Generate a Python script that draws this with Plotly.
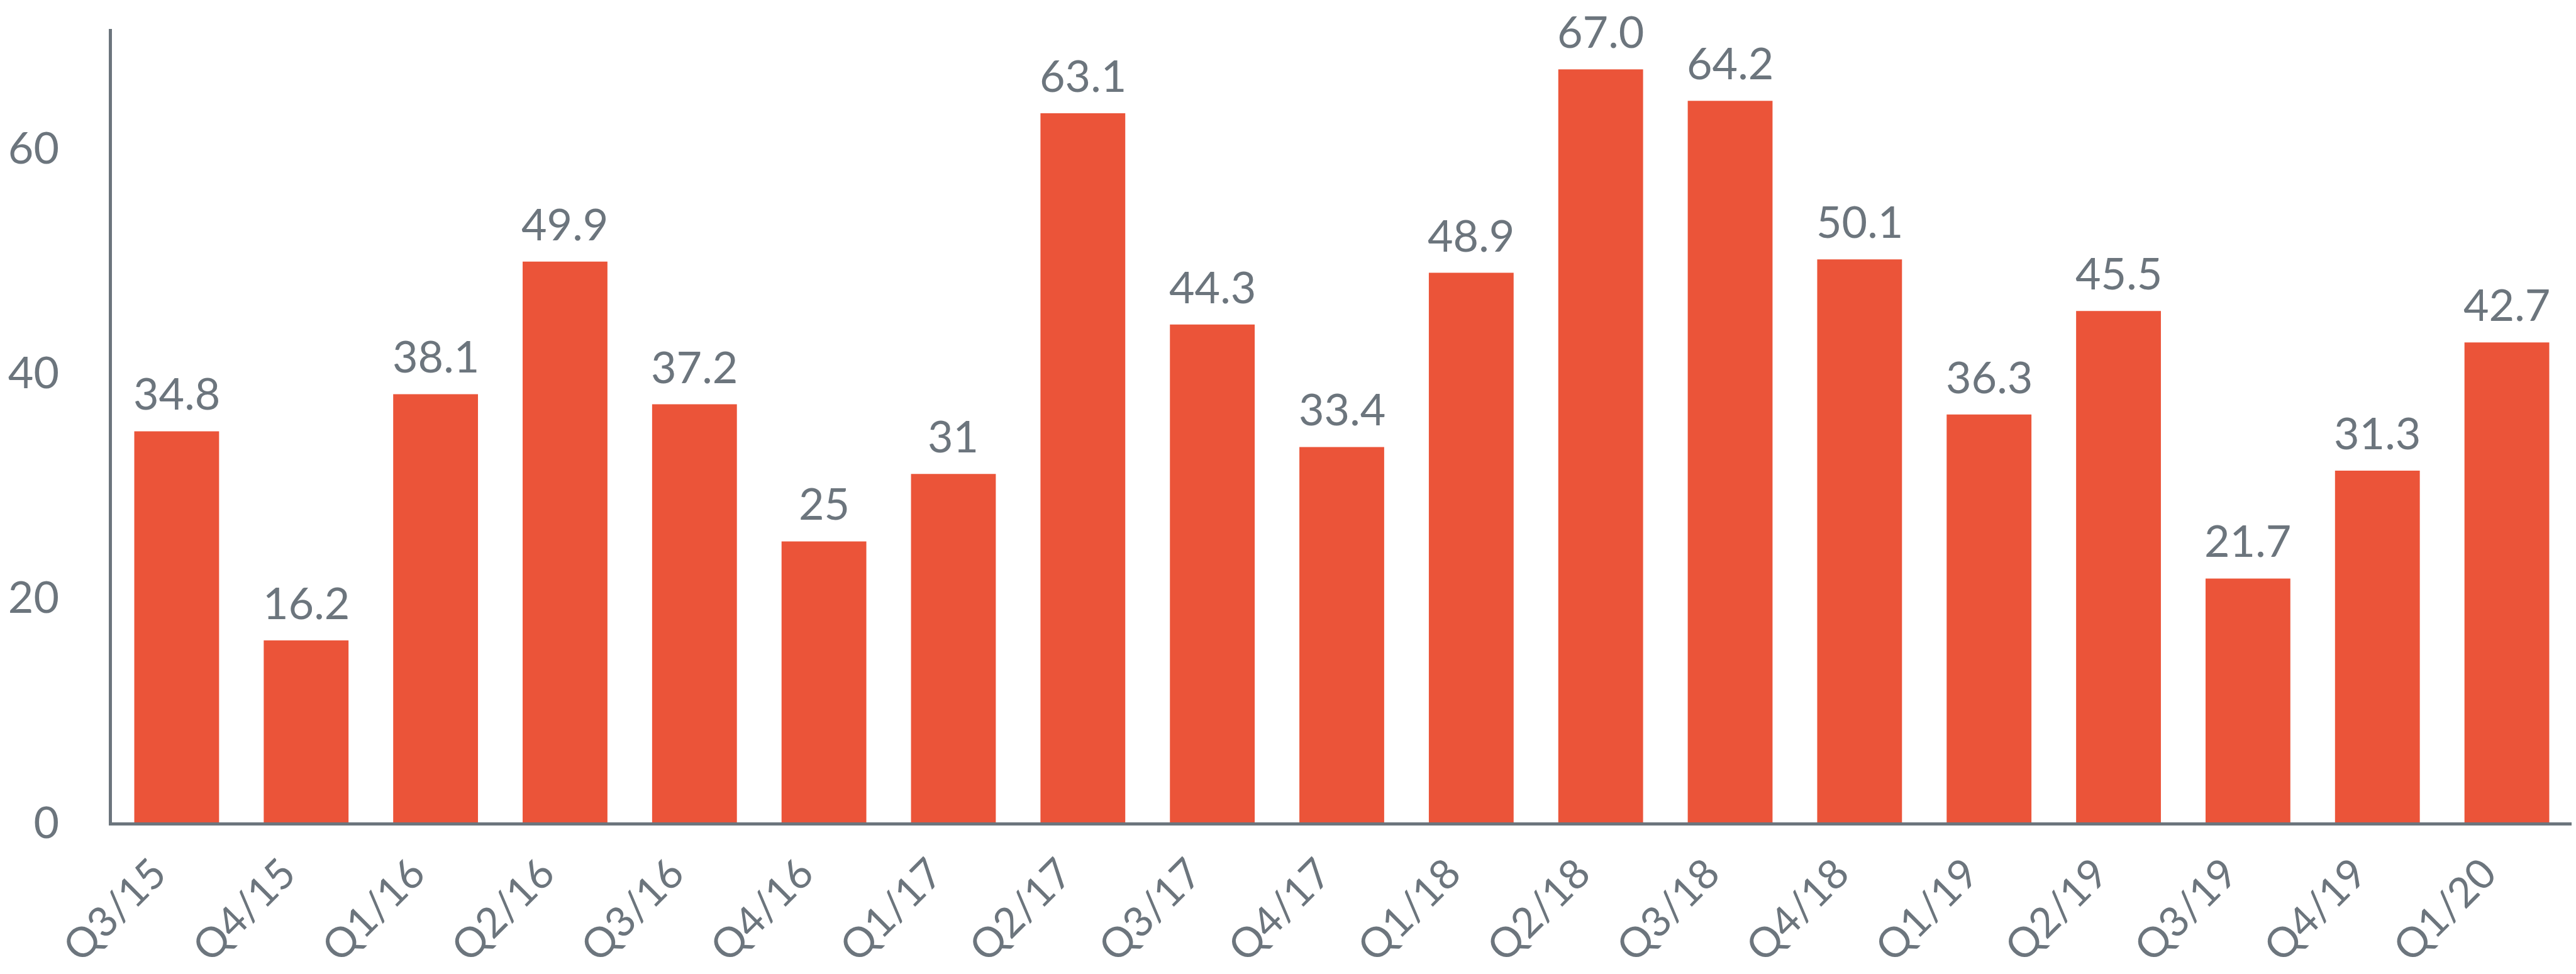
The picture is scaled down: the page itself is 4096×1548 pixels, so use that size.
import plotly.graph_objects as go

# Quarterly values shown as bars
quarters = ["Q3/15", "Q4/15", "Q1/16", "Q2/16", "Q3/16", "Q4/16", "Q1/17", "Q2/17",
            "Q3/17", "Q4/17", "Q1/18", "Q2/18", "Q3/18", "Q4/18", "Q1/19", "Q2/19",
            "Q3/19", "Q4/19", "Q1/20"]
values = [34.8, 16.2, 38.1, 49.9, 37.2, 25, 31, 63.1, 44.3, 33.4, 48.9, 67.0, 64.2,
          50.1, 36.3, 45.5, 21.7, 31.3, 42.7]
value_labels = ["34.8", "16.2", "38.1", "49.9", "37.2", "25", "31", "63.1", "44.3",
                "33.4", "48.9", "67.0", "64.2", "50.1", "36.3", "45.5", "21.7", "31.3",
                "42.7"]
y_ticks = [0, 20, 40, 60]

BAR = "#EB5439"
GREY = "#6C757D"
FONT = "Lato"
FS = 70
FS_X = 66

fig = go.Figure(
    go.Bar(
        x=quarters,
        y=values,
        marker=dict(color=BAR, line=dict(width=0)),
        hoverinfo="skip",
    )
)

# value labels above each bar
for q, v, t in zip(quarters, values, value_labels):
    fig.add_annotation(
        x=q, y=v, text=t, showarrow=False,
        xanchor="center", yanchor="middle", yshift=61,
        font=dict(family=FONT, size=FS, color=GREY),
    )

fig.update_layout(
    width=4096,
    height=1548,
    margin=dict(l=178, r=7, t=46, b=241),
    paper_bgcolor="white",
    plot_bgcolor="white",
    bargap=0.345,
    showlegend=False,
    font=dict(family=FONT, size=FS, color=GREY),
)

fig.update_xaxes(
    automargin=False,
    showline=True, linecolor=GREY, linewidth=5,
    showgrid=False, zeroline=False,
    ticks="", tickangle=-45,
    tickfont=dict(family=FONT, size=FS_X, color=GREY),
    ticklabelstandoff=11,
    ticklabelshift=-36,
)

fig.update_yaxes(
    automargin=False,
    range=[0, 70.6],
    showline=True, linecolor=GREY, linewidth=5,
    showgrid=False, zeroline=False,
    ticks="", tickvals=y_ticks, ticktext=[str(v) for v in y_ticks],
    tickfont=dict(family=FONT, size=FS, color=GREY),
    ticklabelstandoff=65,
)

fig.write_html("out.html", config={"displayModeBar": False})
